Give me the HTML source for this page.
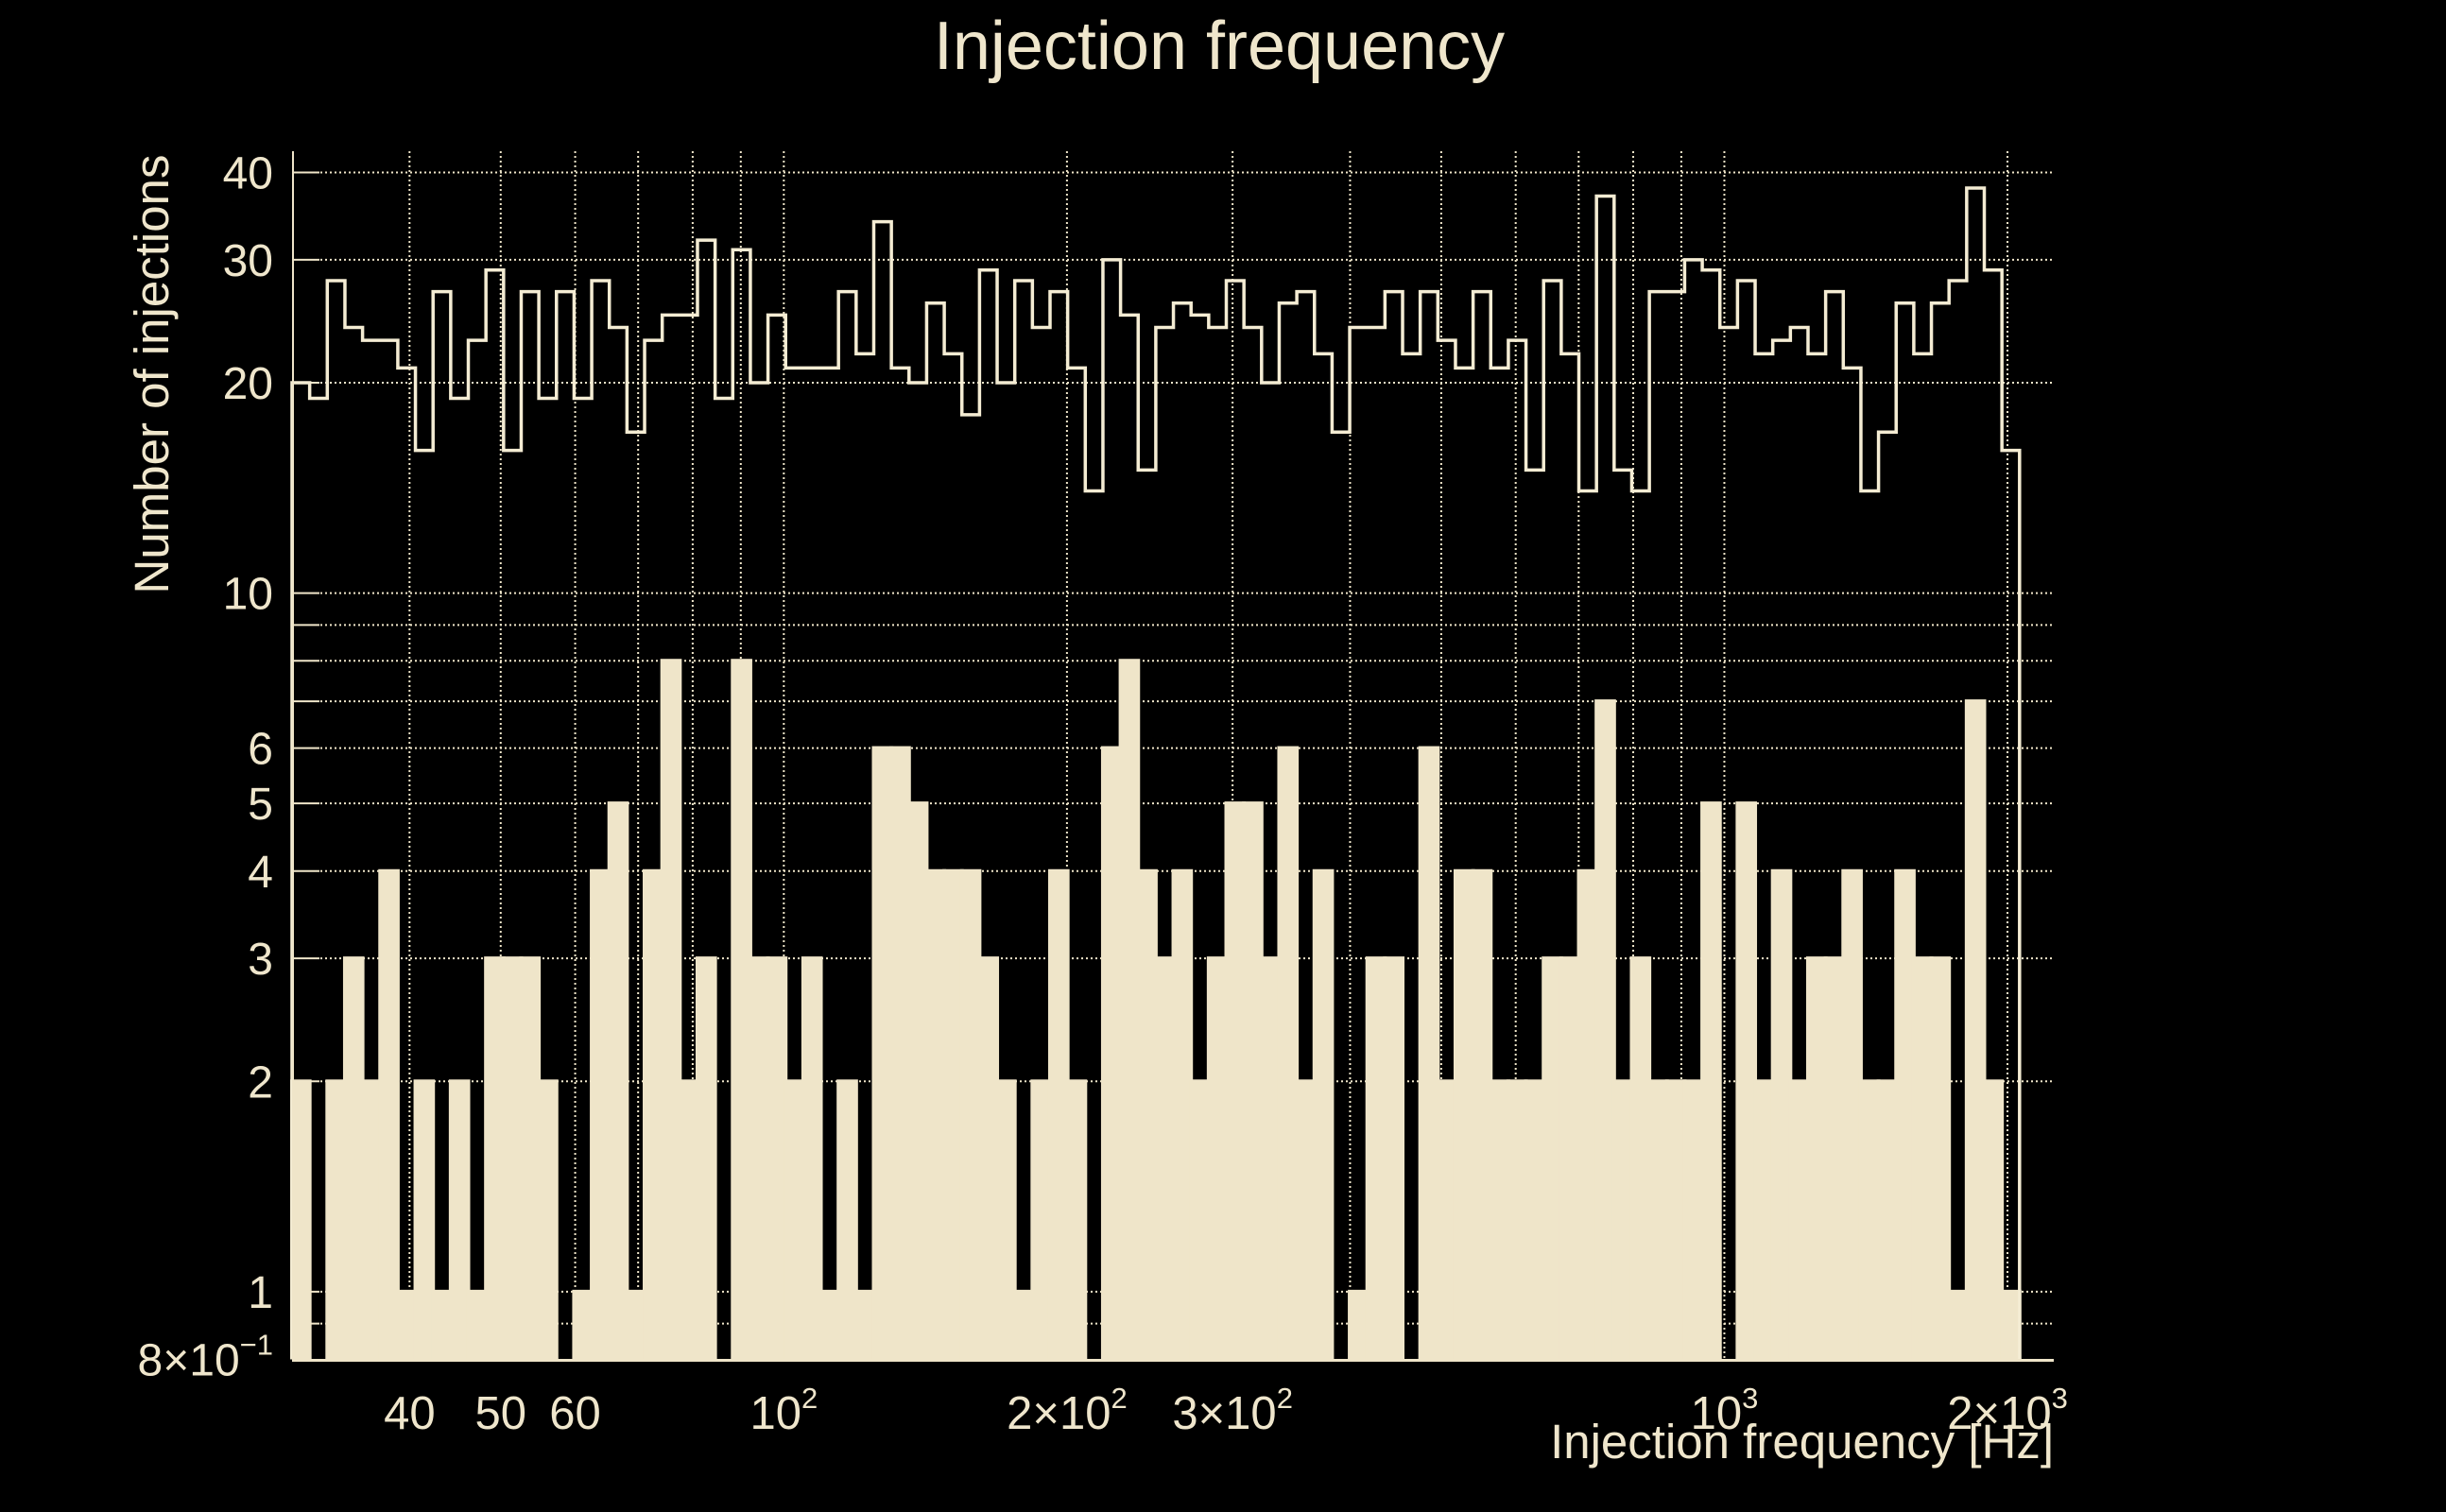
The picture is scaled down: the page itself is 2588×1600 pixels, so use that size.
<!DOCTYPE html>
<html><head><meta charset="utf-8"><title>Injection frequency</title>
<style>
html,body{margin:0;padding:0;background:#000;}
svg{display:block;}
text{font-family:"Liberation Sans",sans-serif;fill:#EFE6CC;}
</style></head>
<body>
<svg id="chart" width="2588" height="1600" viewBox="0 0 2588 1600" xmlns="http://www.w3.org/2000/svg">
<rect x="0" y="0" width="2588" height="1600" fill="#000"/>
<text x="1290" y="73" font-size="72" text-anchor="middle">Injection frequency</text>
<text transform="translate(178,396) rotate(-90)" font-size="51" text-anchor="middle">Number of injections</text>
<text x="2173" y="1543" font-size="51" text-anchor="end">Injection frequency [Hz]</text>
<g id="grid"></g>
<g id="bars"></g>
<g id="line"></g>
<g id="axes"></g>
</svg>
<script>
const binLow = 30;
const binHigh = 2060;
const upperCounts = [20,19,28,24,23,23,21,16,27,19,23,29,16,27,19,27,19,28,24,17,23,25,25,32,19,31,20,25,21,21,21,27,22,34,21,20,26,22,18,29,20,28,24,27,21,14,30,25,15,24,26,25,24,28,24,20,26,27,22,17,24,24,27,22,27,23,21,27,21,23,15,28,22,14,37,15,14,27,27,30,29,24,28,22,23,24,22,27,21,14,17,26,22,26,28,38,29,16];
const lowerCounts = [2,0,2,3,2,4,1,2,1,2,1,3,3,3,2,0,1,4,5,1,4,8,2,3,0,8,3,3,2,3,1,2,1,6,6,5,4,4,4,3,2,1,2,4,2,0,6,8,4,3,4,2,3,5,5,3,6,2,4,0,1,3,3,0,6,2,4,4,2,2,2,3,3,4,7,2,3,2,2,2,5,0,5,2,4,2,3,3,4,2,2,4,3,3,1,7,2,1];
const yTickValues = [0.8,1,2,3,4,5,6,10,20,30,40];
const yTickMain = ["8×10","1","2","3","4","5","6","10","20","30","40"];
const yTickSup = ["−1","","","","","","","","","",""];
const yGridValues = [0.9,1,2,3,4,5,6,7,8,9,10,20,30,40];
const xGridValues = [40,50,60,70,80,90,100,200,300,400,500,600,700,800,900,1000,2000];
const xTickValues = [40,50,60,100,200,300,1000,2000];
const xTickMain = ["40","50","60","10","2×10","3×10","10","2×10"];
const xTickSup = ["","","","2","2","2","3","3"];

const X0=309, X1=2173, XMIN=30, XMAX=2240;
const Y0=1438.5, Y1=160, YMIN=0.8, YMAX=42.9;
function xs(f){return X0+(X1-X0)*Math.log10(f/XMIN)/Math.log10(XMAX/XMIN);}
function ys(v){return Y0-(Y0-Y1)*Math.log10(v/YMIN)/Math.log10(YMAX/YMIN);}
const NS="http://www.w3.org/2000/svg";
const C="#EFE5C9";
function mk(tag,attrs,parent){const e=document.createElementNS(NS,tag);for(const k in attrs)e.setAttribute(k,attrs[k]);parent.appendChild(e);return e;}
const nb=upperCounts.length;
function edge(i){return binLow*Math.pow(binHigh/binLow,i/nb);}

const grid=document.getElementById('grid');
yGridValues.forEach(v=>{
  const l=mk('line',{x1:X0+30,x2:X1,y1:ys(v),y2:ys(v),stroke:C,'stroke-width':2,'stroke-dasharray':'2,3'},grid);
  
  
  const t=mk('line',{x1:X0,x2:X0+29,y1:ys(v),y2:ys(v),stroke:C,'stroke-width':2},grid);
  
  
});
xGridValues.forEach(f=>{
  const l=mk('line',{x1:xs(f),x2:xs(f),y1:Y1,y2:Y0,stroke:C,'stroke-width':2,'stroke-dasharray':'2,3'},grid);
  
  
});

const bars=document.getElementById('bars');
lowerCounts.forEach((v,i)=>{
  if(v<=0)return;
  const xa=xs(edge(i)), xb=xs(edge(i+1)), y=ys(v);
  const r=mk('rect',{x:xa-2,y:y-2,width:xb-xa+4,height:Y0-y+2,fill:C},bars);
  
  
});

const lineG=document.getElementById('line');
let d="M"+xs(edge(0))+","+Y0;
upperCounts.forEach((v,i)=>{
  const y=ys(v);
  d+=" L"+xs(edge(i))+","+y+" L"+xs(edge(i+1))+","+y;
});
d+=" L"+xs(edge(nb))+","+Y0;
const p=mk('path',{d:d,fill:'none',stroke:'#F4ECD3','stroke-width':3.5},lineG);



const axes=document.getElementById('axes');
const ya=mk('line',{x1:310,x2:310,y1:Y1,y2:Y0+1,stroke:C,'stroke-width':2},axes);


const xa=mk('line',{x1:309,x2:X1,y1:1439.5,y2:1439.5,stroke:C,'stroke-width':3},axes);



yTickValues.forEach((v,i)=>{
  const t=mk('text',{x:289,y:ys(v)+17,'font-size':48,'text-anchor':'end'},axes);
  t.textContent=yTickMain[i];
  if(yTickSup[i]){
    const s=mk('tspan',{'font-size':31,dy:-22},t);
    s.textContent=yTickSup[i];
  }
  
  
});
xTickValues.forEach((f,i)=>{
  const t=mk('text',{x:xs(f),y:1512,'font-size':49,'text-anchor':'middle'},axes);
  t.textContent=xTickMain[i];
  if(xTickSup[i]){
    const s=mk('tspan',{'font-size':31,dy:-22},t);
    s.textContent=xTickSup[i];
  }
  
  
});
</script>
</body></html>
